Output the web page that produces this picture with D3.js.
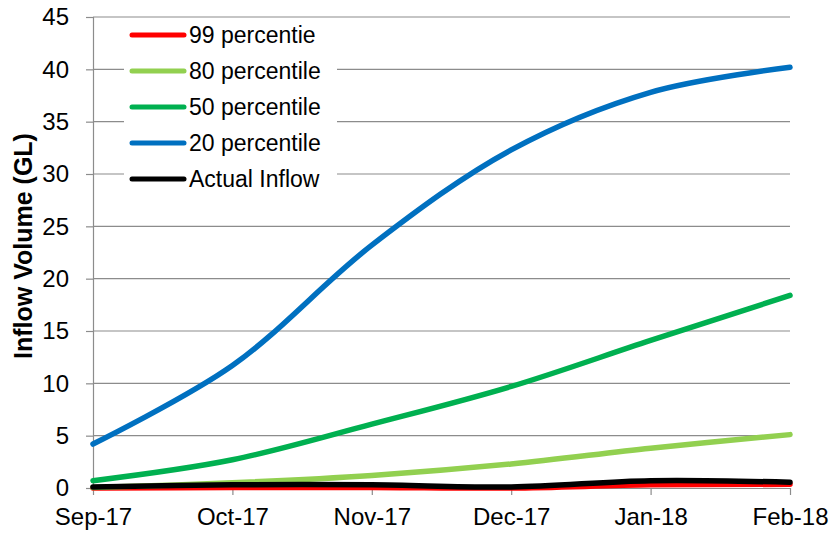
<!DOCTYPE html>
<html>
<head>
<meta charset="utf-8">
<script src="https://cdn.jsdelivr.net/npm/d3@7"></script>
<style>
  body { margin: 0; background: #fff; }
  svg { display: block; font-family: "Liberation Sans", Arial, sans-serif; }
</style>
</head>
<body>
<svg id="chart" width="836" height="534"></svg>
<script>
// Monthly cumulative inflow volumes (GL)
const months = ["Sep-17", "Oct-17", "Nov-17", "Dec-17", "Jan-18", "Feb-18"];
const p99 = [0.0, 0.05, 0.05, 0.0, 0.3, 0.35];
const p80 = [0.05, 0.5, 1.2, 2.3, 3.8, 5.1];
const p50 = [0.7, 2.7, 6.1, 9.7, 14.1, 18.4];
const p20 = [4.2, 11.7, 23.2, 32.3, 37.8, 40.2];
const actual = [0.1, 0.3, 0.3, 0.1, 0.7, 0.55];
const yTicks = [0, 5, 10, 15, 20, 25, 30, 35, 40, 45];

const series = [
  { name: "99 percentie", values: p99, color: "#ff0000" },
  { name: "80 percentile", values: p80, color: "#92d050" },
  { name: "50 percentile", values: p50, color: "#00b050" },
  { name: "20 percentile", values: p20, color: "#0070c0" },
  { name: "Actual Inflow", values: actual, color: "#000000" }
];

const svg = d3.select("#chart");
const margin = { left: 93, right: 46, top: 17, bottom: 46 };
const W = 836, H = 534;

const x = d3.scalePoint().domain(months).range([margin.left, W - margin.right]);
const y = d3.scaleLinear().domain([0, 45]).range([H - margin.bottom, margin.top]);

// Horizontal gridlines
svg.append("g")
  .selectAll("line")
  .data(yTicks.filter(d => d > 0))
  .join("line")
  .attr("x1", margin.left).attr("x2", W - margin.right)
  .attr("y1", d => y(d)).attr("y2", d => y(d))
  .attr("stroke", "#8c8c8c").attr("stroke-width", 1.2);

// Y axis
const yAxis = svg.append("g")
  .attr("transform", `translate(${margin.left},0)`)
  .call(d3.axisLeft(y).tickValues(yTicks).tickSize(7).tickPadding(17));
yAxis.select(".domain").attr("stroke", "#8c8c8c").attr("stroke-width", 1.2);
yAxis.selectAll(".tick line").attr("stroke", "#8c8c8c").attr("stroke-width", 1.2);
yAxis.selectAll(".tick text")
  .attr("font-size", 24).attr("fill", "#000")
  .attr("font-family", "Liberation Sans, Arial, sans-serif");

// X axis
const xAxis = svg.append("g")
  .attr("transform", `translate(0,${y(0)})`)
  .call(d3.axisBottom(x).tickSize(7).tickSizeOuter(0).tickPadding(13));
xAxis.select(".domain").attr("stroke", "#8c8c8c").attr("stroke-width", 1.2);
xAxis.selectAll(".tick line").attr("stroke", "#8c8c8c").attr("stroke-width", 1.2);
xAxis.selectAll(".tick text")
  .attr("font-size", 24).attr("fill", "#000")
  .attr("font-family", "Liberation Sans, Arial, sans-serif");

// Y axis title
svg.append("text")
  .attr("transform", `translate(32,246) rotate(-90)`)
  .attr("text-anchor", "middle")
  .attr("font-size", 25).attr("font-weight", "bold")
  .text("Inflow Volume (GL)");

// Series lines
const line = d3.line()
  .x((d, i) => x(months[i]))
  .y(d => y(d))
  .curve(d3.curveCatmullRom.alpha(0.5));

svg.append("g")
  .selectAll("path")
  .data(series)
  .join("path")
  .attr("d", d => line(d.values))
  .attr("fill", "none")
  .attr("stroke", d => d.color)
  .attr("stroke-width", 5.5)
  .attr("stroke-linecap", "round")
  .attr("stroke-linejoin", "round");

// Legend
const legend = svg.append("g");
legend.append("rect")
  .attr("x", 124).attr("y", 19).attr("width", 213).attr("height", 176)
  .attr("fill", "#fff");
const item = legend.selectAll("g.item")
  .data(series)
  .join("g")
  .attr("class", "item")
  .attr("transform", (d, i) => `translate(0,${35 + i * 36})`);
item.append("line")
  .attr("x1", 132).attr("x2", 184)
  .attr("stroke", d => d.color)
  .attr("stroke-width", 5)
  .attr("stroke-linecap", "round");
item.append("text")
  .attr("x", 189).attr("y", 0).attr("dy", "0.35em")
  .attr("font-size", 23)
  .text(d => d.name);
</script>
</body>
</html>
